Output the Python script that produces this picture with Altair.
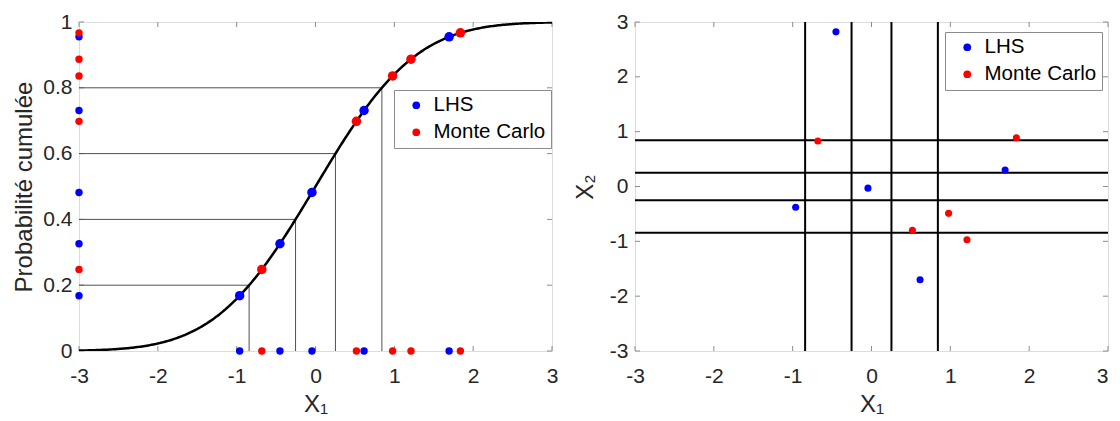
import altair as alt
import pandas as pd

# ---- data ----
series = ["LHS", "Monte Carlo"]
colors = ["#0000ff", "#ff0000"]

lhs_x1 = [-0.962, -0.451, -0.045, 0.616, 1.695]
lhs_p = [0.168, 0.326, 0.482, 0.731, 0.955]
lhs_x2 = [-0.38, 2.82, -0.03, -1.70, 0.30]

mc_x1 = [-0.681, 0.519, 0.978, 1.211, 1.838]
mc_p = [0.248, 0.698, 0.836, 0.887, 0.967]
mc_x2 = [0.83, -0.80, -0.49, -0.97, 0.89]

strata_p = [0.2, 0.4, 0.6, 0.8]
strata_q = [-0.842, -0.253, 0.253, 0.842]

x_ticks = [-3, -2, -1, 0, 1, 2, 3]
p_ticks = [0, 0.2, 0.4, 0.6, 0.8, 1]
x2_ticks = [-3, -2, -1, 0, 1, 2, 3]

# ---- tables ----
pts = pd.DataFrame({
    "method": [series[0]] * len(lhs_x1) + [series[1]] * len(mc_x1),
    "x1": lhs_x1 + mc_x1,
    "p": lhs_p + mc_p,
    "x2": lhs_x2 + mc_x2,
})
strata = pd.DataFrame({"p": strata_p, "q": strata_q})
xt = pd.DataFrame({"v": x_ticks})
pt = pd.DataFrame({"v": p_ticks})
x2t = pd.DataFrame({"v": x2_ticks})

W, H = 473, 329
FONT = "Liberation Sans"
FRAME = "#8c8c8c"
TXT = "#262626"
TL = 5

xs = alt.Scale(domain=[-3, 3], nice=False, zero=False)
ps = alt.Scale(domain=[0, 1], nice=False, zero=False)
ys = alt.Scale(domain=[-3, 3], nice=False, zero=False)


def mkaxis(values, lp, tp=6, align=None):
    kw = {}
    if align is not None:
        kw["labelAlign"] = align
    return alt.Axis(values=values, tickSize=0, domain=False, grid=False,
                    labelExpr="'' + datum.value", labelFontSize=21, labelFont=FONT,
                    labelColor=TXT, titleFontSize=24, titleFont=FONT,
                    titleFontWeight="normal", titleColor=TXT, labelPadding=lp,
                    titlePadding=tp, labelFlush=False, labelOverlap=False, **kw)


ax_x = mkaxis(x_ticks, 14)
ax_x_r = mkaxis(x_ticks, 14, align={"condition": {"test": "datum.value == 3", "value": "right"},
                                    "value": "center"})
ax_p = mkaxis(p_ticks, 7)
ax_y2 = mkaxis(x2_ticks, 7, tp=12)


def X(f):
    return alt.X(f, type="quantitative", scale=xs, axis=ax_x, title="X₁")


def XR(f):
    return alt.X(f, type="quantitative", scale=xs, axis=ax_x_r, title="X₁")


def P(f):
    return alt.Y(f, type="quantitative", scale=ps, axis=ax_p, title="Probabilité cumulée")


def Y2(f):
    return alt.Y(f, type="quantitative", scale=ys, axis=ax_y2, title="X₂")


def legend(lx, ly):
    return alt.Legend(orient="none", legendX=lx, legendY=ly, title=None,
                      strokeColor=FRAME, fillColor="white", padding=5,
                      labelFontSize=20.5, labelFont=FONT, labelColor="black",
                      symbolType="circle", symbolSize=60, symbolStrokeWidth=0,
                      symbolOffset=7, labelOffset=7, rowPadding=6)


def col(lx, ly):
    return alt.Color("method:N", scale=alt.Scale(domain=series, range=colors),
                     legend=legend(lx, ly))


def ticks(xfn, yfn, ydata):
    b = alt.Chart(xt).mark_rule(color=FRAME, strokeWidth=1).encode(
        x=xfn("v"), y=alt.value(H), y2=alt.value(H - TL))
    t = alt.Chart(xt).mark_rule(color=FRAME, strokeWidth=1).encode(
        x=xfn("v"), y=alt.value(0), y2=alt.value(TL))
    l = alt.Chart(ydata).mark_rule(color=FRAME, strokeWidth=1).encode(
        y=yfn("v"), x=alt.value(0), x2=alt.value(TL))
    r = alt.Chart(ydata).mark_rule(color=FRAME, strokeWidth=1).encode(
        y=yfn("v"), x=alt.value(W), x2=alt.value(W - TL))
    return [b, t, l, r]


# ---- left panel ----
curve = alt.Chart(alt.sequence(-3, 3.0001, 0.02, as_="x")).transform_calculate(
    p="cumulativeNormal(datum.x)"
).mark_line(color="black", strokeWidth=2.5, clip=True).encode(x=X("x"), y=P("p"))

hlines = alt.Chart(strata).transform_calculate(x0="-3").mark_rule(
    color="#505050", strokeWidth=1).encode(x=X("x0"), x2="q:Q", y=P("p"))
vlines = alt.Chart(strata).transform_calculate(p0="0").mark_rule(
    color="#505050", strokeWidth=1).encode(x=X("q"), y=P("p0"), y2="p:Q")

lc = col(315, 68)
on_curve = alt.Chart(pts).mark_circle(size=90, opacity=1).encode(
    x=X("x1"), y=P("p"), color=lc)
on_xaxis = alt.Chart(pts).transform_calculate(p0="0").mark_circle(size=55, opacity=1).encode(
    x=X("x1"), y=P("p0"), color=lc)
on_yaxis = alt.Chart(pts).transform_calculate(x0="-3").mark_circle(size=55, opacity=1).encode(
    x=X("x0"), y=P("p"), color=lc)

left = alt.layer(*ticks(X, P, pt), hlines, vlines, curve, on_curve, on_xaxis, on_yaxis).properties(
    width=W, height=H)

# ---- right panel ----
rc = col(310, 10)
hl2 = alt.Chart(strata).mark_rule(color="black", strokeWidth=2).encode(y=Y2("q"))
vl2 = alt.Chart(strata).mark_rule(color="black", strokeWidth=2).encode(x=XR("q"))
sc = alt.Chart(pts).mark_circle(size=50, opacity=1).encode(
    x=XR("x1"), y=Y2("x2"), color=rc)

right = alt.layer(*ticks(XR, Y2, x2t), hl2, vl2, sc).properties(width=W, height=H)

chart = alt.hconcat(left, right, spacing=13).resolve_legend(color="independent").properties(
    padding={"left": 4, "top": 2, "right": 0, "bottom": 0}
).configure_view(stroke=FRAME, strokeWidth=1).configure(background="white")

chart.save("out.html", embed_options={"renderer": "svg", "actions": False})
